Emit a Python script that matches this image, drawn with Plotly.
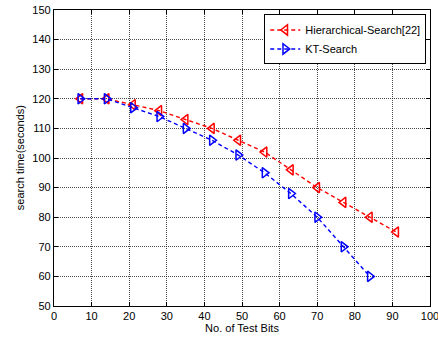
import plotly.graph_objects as go

x_hier = [7, 14, 21, 28, 35, 42, 49, 56, 63, 70, 77, 84, 91]
y_hier = [120, 120, 118, 116, 113, 110, 106, 102, 96, 90, 85, 80, 75]
x_kt = [7, 14, 21, 28, 35, 42, 49, 56, 63, 70, 77, 84]
y_kt = [120, 120, 117, 114, 110, 106, 101, 95, 88, 80, 70, 60]

fig = go.Figure()
fig.add_trace(go.Scatter(
    x=x_hier, y=y_hier, mode="lines+markers", name="Hierarchical-Search[22]",
    line=dict(color="red", dash="4px,3px", width=1.4),
    marker=dict(symbol="triangle-left-open", size=9, color="red", line=dict(width=1.5, color="red")),
))
fig.add_trace(go.Scatter(
    x=x_kt, y=y_kt, mode="lines+markers", name="KT-Search",
    line=dict(color="blue", dash="4px,3px", width=1.4),
    marker=dict(symbol="triangle-right-open", size=9, color="blue", line=dict(width=1.5, color="blue")),
))

axis_common = dict(
    showline=True, linecolor="black", linewidth=1.2, mirror="ticks",
    ticks="inside", ticklen=4, tickcolor="black",
    showgrid=True, gridcolor="rgba(0,0,0,0.7)", griddash="1px,1px", gridwidth=1,
    zeroline=False, ticklabeloverflow="allow", automargin=False,
    tickfont=dict(family="Liberation Sans, Arial", size=11, color="black"),
)

fig.update_layout(
    width=438, height=340,
    margin=dict(l=54, r=8, t=10, b=34, autoexpand=False),
    paper_bgcolor="white", plot_bgcolor="white",
    font=dict(family="Liberation Sans, Arial", size=11, color="black"),
    xaxis=dict(range=[0, 100], dtick=10, title=dict(text="No. of Test Bits", standoff=2,
               font=dict(size=11)), **axis_common),
    yaxis=dict(range=[50, 150], dtick=10, **axis_common),
    legend=dict(x=0.99, y=0.985, xanchor="right", yanchor="top",
                bgcolor="white", bordercolor="black", borderwidth=1,
                font=dict(size=11), tracegroupgap=0),
    showlegend=True,
    annotations=[dict(text="search time(seconds)", xref="paper", yref="paper",
                      x=-0.09, y=0.5, xanchor="center", yanchor="middle",
                      textangle=-90, showarrow=False, font=dict(size=11))],
)

fig.write_html("out.html")
